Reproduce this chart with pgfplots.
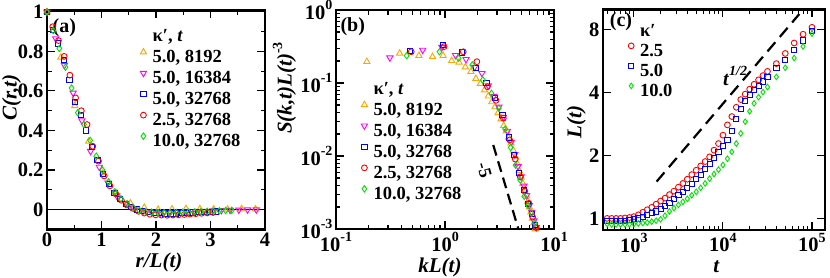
\documentclass[border=0pt]{standalone}
\usepackage{fontspec}
\setmainfont{Liberation Serif}
\usepackage{pgfplots}
\usepackage{pgfplotstable}
\pgfplotsset{compat=1.18}

\definecolor{cO}{RGB}{255,165,0}
\definecolor{cM}{RGB}{255,0,255}
\definecolor{cB}{RGB}{0,0,255}
\definecolor{cR}{RGB}{255,0,0}
\definecolor{cG}{RGB}{0,225,0}

\newcommand\tp[1]{10\raisebox{0.45em}{\fontsize{14}{14}\selectfont#1}}

\pgfplotsset{
  panel/.style={
    scale only axis,
    axis line style={line width=2.4pt},
    every tick/.style={black, line width=1.1pt},
    major tick length=8pt, minor tick length=4.5pt,
    tick align=inside, tick pos=both,
    tick label style={font=\fontsize{20.5}{20.5}\selectfont\bfseries},
    label style={font=\fontsize{21}{21}\selectfont\bfseries\itshape},
    legend style={draw=none, fill=none, inner sep=0pt, outer sep=0pt,
      row sep=1.5pt, column sep=5pt, cells={anchor=west},
      font=\fontsize{18.5}{18.5}\selectfont\bfseries,
      nodes={inner sep=1pt, text height=13pt, text depth=4.5pt}},
    legend image code/.code={\draw[##1,only marks] plot coordinates {(0pt,6pt)};},
    legend cell align=left,
  },
  mO/.style={only marks, color=cO, mark=triangle, mark size=3.6pt, mark options={line width=0.9pt, fill=none}},
  mM/.style={only marks, color=cM, mark=triangle, mark size=3.6pt, mark options={line width=0.9pt, fill=none, rotate=180}},
  mB/.style={only marks, color=cB, mark=square, mark size=2.6pt, mark options={line width=0.9pt, fill=none}},
  mR/.style={only marks, color=cR, mark=o, mark size=2.9pt, mark options={line width=0.9pt, fill=none}},
  mG/.style={only marks, color=cG, mark=diamond, mark size=3.2pt, mark options={line width=0.9pt, fill=none}},
}

\pgfplotstableread{
t R B G
501.2 1.00 0.97 0.94
562.3 1.00 0.97 0.935
631.0 1.00 0.975 0.935
707.9 1.00 0.975 0.935
794.3 1.005 0.975 0.935
891.3 1.01 0.98 0.937
1000 1.02 0.99 0.94
1122 1.04 1.00 0.945
1259 1.07 1.02 0.95
1413 1.10 1.04 0.955
1585 1.13 1.06 0.965
1778 1.17 1.08 0.975
1995 1.21 1.11 0.99
2239 1.25 1.15 1.03
2512 1.30 1.19 1.08
2818 1.35 1.24 1.12
3162 1.41 1.29 1.16
3548 1.47 1.34 1.20
3981 1.54 1.40 1.24
4467 1.62 1.46 1.29
5012 1.70 1.54 1.34
5623 1.78 1.62 1.40
6310 1.87 1.72 1.47
7079 1.97 1.82 1.55
7943 2.12 1.94 1.63
8913 2.28 2.07 1.71
10000 2.50 2.22 1.80
11220 2.80 2.38 1.93
12590 3.07 2.62 2.08
14130 3.40 3.00 2.28
15850 3.70 3.35 2.55
17780 3.93 3.65 2.90
19950 4.15 3.88 3.25
22390 4.38 4.10 3.55
25120 4.60 4.30 3.80
28180 4.82 4.52 4.02
31620 5.05 4.75 4.25
39810 5.50 5.22 4.75
50120 6.15 5.75 5.25
63100 6.90 6.40 5.85
79430 7.60 7.10 6.65
100000 8.20 7.90 7.65
}\tabC

\begin{document}
\begin{tikzpicture}
\useasboundingbox (0,0) rectangle (830pt,277pt);

% ---------------- (a)
\begin{axis}[panel, at={(47pt,47.7pt)}, anchor=south west, width=218pt, height=219pt,
  xmin=0, xmax=4, ymin=-0.1, ymax=1.008,
  xtick={0,1,2,3,4}, xticklabels={0,1,2,3,4}, minor x tick num=1,
  ytick={0,0.2,0.4,0.6,0.8,1}, yticklabels={0,0.2,0.4,0.6,0.8,1}, minor y tick num=1,
  xlabel={r/L(t)}, ylabel={C(r,t)},
  xlabel style={at={(axis description cs:0.514,-0.153)}, anchor=center},
  ylabel style={at={(axis description cs:-0.163,0.6)}, anchor=center},
  legend style={at={(axis description cs:0.428,0.922)}, anchor=north west},
]
\addplot[black, line width=1.6pt, forget plot] coordinates {(0,0) (4,0)};
\addlegendimage{empty legend}\addlegendentry{κ′, \textit{t}}
\addplot[mO] coordinates {(0,1.0)(0.255,0.77)(0.51,0.525)(0.765,0.345)(1.02,0.185)(1.275,0.083)(1.53,0.032)(1.785,0.01)(2.04,0.0)(2.295,0.002)(2.55,0.004)(2.805,0.003)(3.06,0.002)(3.315,0.001)(3.57,0.003)(3.825,0.002)};
\addlegendentry{5.0, 8192}
\addplot[mM] coordinates {(0,1.0)(0.16,0.865)(0.32,0.73)(0.48,0.59)(0.64,0.45)(0.80,0.295)(0.96,0.215)(1.12,0.135)(1.28,0.07)(1.44,0.03)(1.60,0.005)(1.76,-0.008)(1.92,-0.013)(2.08,-0.015)(2.24,-0.016)(2.40,-0.014)(2.56,-0.012)(2.72,-0.010)(2.88,-0.008)(3.04,-0.006)(3.20,-0.004)(3.36,-0.003)(3.52,-0.002)(3.68,-0.001)(3.84,-0.001)};
\addlegendentry{5.0, 16384}
\addplot[mB] coordinates {(0,1.0)(0.103,0.91)(0.206,0.84)(0.309,0.755)(0.412,0.655)(0.515,0.545)(0.618,0.48)(0.721,0.40)(0.824,0.315)(0.927,0.25)(1.03,0.18)(1.133,0.13)(1.236,0.085)(1.339,0.055)(1.442,0.03)(1.545,0.012)(1.648,0.0)(1.751,-0.009)(1.854,-0.014)(1.957,-0.017)(2.06,-0.019)(2.163,-0.02)(2.266,-0.02)(2.369,-0.02)(2.472,-0.019)(2.575,-0.017)(2.678,-0.015)(2.781,-0.013)(2.884,-0.012)(2.987,-0.011)(3.09,-0.01)};
\addlegendentry{5.0, 32768}
\addplot[mR] coordinates {(0,1.0)(0.105,0.925)(0.21,0.855)(0.315,0.775)(0.42,0.68)(0.525,0.565)(0.63,0.50)(0.735,0.43)(0.84,0.32)(0.945,0.245)(1.05,0.17)(1.155,0.12)(1.26,0.08)(1.365,0.047)(1.47,0.023)(1.575,0.006)(1.68,-0.009)(1.785,-0.018)(1.89,-0.024)(1.995,-0.027)(2.1,-0.028)(2.205,-0.029)(2.31,-0.028)(2.415,-0.027)(2.52,-0.025)(2.625,-0.023)(2.73,-0.021)(2.835,-0.019)(2.94,-0.017)(3.045,-0.015)};
\addlegendentry{2.5, 32768}
\addplot[mG] coordinates {(0,1.0)(0.113,0.905)(0.226,0.815)(0.339,0.72)(0.452,0.615)(0.565,0.49)(0.678,0.43)(0.791,0.35)(0.904,0.27)(1.017,0.20)(1.13,0.14)(1.243,0.09)(1.356,0.055)(1.469,0.03)(1.582,0.01)(1.695,-0.004)(1.808,-0.01)(1.921,-0.013)(2.034,-0.015)(2.147,-0.016)(2.26,-0.016)(2.373,-0.015)(2.486,-0.014)(2.599,-0.013)(2.712,-0.011)(2.825,-0.01)(2.938,-0.009)(3.051,-0.008)(3.164,-0.006)(3.277,-0.005)(3.39,-0.004)};
\addlegendentry{10.0, 32768}
\node[anchor=north west, inner sep=0pt, font=\fontsize{20}{20}\selectfont\bfseries] at (axis description cs:0.025,0.965) {(a)};
\end{axis}

% ---------------- (b)
\begin{axis}[panel, at={(336pt,48pt)}, anchor=south west, width=218pt, height=219pt,
  xmode=log, ymode=log, xmin=0.1, xmax=10, ymin=1e-3, ymax=1,
  xtick={0.1,1,10}, xticklabels={\tp{-1},\tp{0},\tp{1}},
  minor xtick={0.2,0.3,0.4,0.5,0.6,0.7,0.8,0.9,2,3,4,5,6,7,8,9},
  ytick={0.001,0.01,0.1,1}, yticklabels={\tp{-3},\tp{-2},\tp{-1},\tp{0}},
  minor ytick={0.002,0.003,0.004,0.005,0.006,0.007,0.008,0.009,0.02,0.03,0.04,0.05,0.06,0.07,0.08,0.09,0.2,0.3,0.4,0.5,0.6,0.7,0.8,0.9},
  xlabel={kL(t)}, ylabel={S(k,t)L(t)\raisebox{0.45em}{\upshape\fontsize{14}{14}\selectfont -3}},
  xlabel style={at={(axis description cs:0.477,-0.176)}, anchor=center},
  ylabel style={at={(axis description cs:-0.236,0.644)}, anchor=center},
  legend style={at={(axis description cs:0.116,0.680)}, anchor=north west},
]
\addplot[black, line width=2.2pt, dash pattern=on 11pt off 6pt, forget plot] coordinates {(2.77,0.01415) (4.71,0.001)};
\addlegendimage{empty legend}\addlegendentry{κ′, \textit{t}}
\addplot[mO] coordinates {(0.192,0.196)(0.384,0.255)(0.576,0.237)(0.768,0.229)(0.960,0.237)(1.152,0.202)(1.344,0.192)(1.536,0.165)(1.728,0.143)(1.92,0.115)(2.112,0.098)(2.304,0.08)(2.496,0.066)(2.688,0.055)(2.88,0.047)(3.072,0.039)(3.264,0.032)(3.456,0.026)(3.648,0.022)(3.84,0.018)(4.032,0.015)(4.224,0.012)(4.416,0.0097)(4.608,0.0078)(4.8,0.0063)(4.992,0.0051)(5.184,0.0042)(5.376,0.0035)(5.568,0.0029)(5.76,0.0024)(5.952,0.002)(6.144,0.0017)(6.336,0.0014)(6.528,0.0012)(6.72,0.001)(6.912,0.00088)};
\addlegendentry{5.0, 8192}
\addplot[mM] coordinates {(0.312,0.222)(0.624,0.283)(0.936,0.31)(1.248,0.24)(1.56,0.211)(1.872,0.165)(2.184,0.136)(2.496,0.092)(2.808,0.066)(3.12,0.047)(3.432,0.034)(3.744,0.022)(4.056,0.0155)(4.368,0.0105)(4.68,0.0072)(4.992,0.0052)(5.304,0.0039)(5.616,0.0029)(5.928,0.0021)(6.24,0.0017)(6.552,0.0013)(6.864,0.00105)(7.176,0.00088)};
\addlegendentry{5.0, 16384}
\addplot[mB] coordinates {(0.48,0.274)(0.96,0.332)(1.44,0.263)(1.92,0.162)(2.40,0.099)(2.88,0.062)(3.36,0.0365)(3.84,0.018)(4.32,0.0103)(4.80,0.0058)(5.28,0.0034)(5.76,0.0022)(6.24,0.0016)(6.72,0.00115)(7.2,0.00088)};
\addlegendentry{5.0, 32768}
\addplot[mR] coordinates {(0.49,0.268)(0.98,0.315)(1.47,0.268)(1.96,0.196)(2.45,0.089)(2.94,0.058)(3.43,0.033)(3.92,0.0166)(4.41,0.0091)(4.90,0.0052)(5.39,0.0033)(5.88,0.00225)(6.37,0.00146)(6.86,0.00105)};
\addlegendentry{2.5, 32768}
\addplot[mG] coordinates {(0.445,0.237)(0.89,0.268)(1.335,0.218)(1.78,0.177)(2.225,0.11)(2.67,0.072)(3.115,0.045)(3.56,0.0234)(4.005,0.0131)(4.45,0.0075)(4.895,0.0047)(5.34,0.0028)(5.785,0.0021)(6.23,0.00164)(6.675,0.0012)(7.12,0.0009)};
\addlegendentry{10.0, 32768}
\node[rotate=-74, font=\fontsize{18}{18}\selectfont\bfseries] at (axis cs:2.3,0.0064) {-5};
\node[anchor=north west, inner sep=0pt, font=\fontsize{20}{20}\selectfont\bfseries] at (axis description cs:0.02,0.965) {(b)};
\end{axis}

% ---------------- (c)
\begin{axis}[panel, at={(603pt,47pt)}, anchor=south west, width=222pt, height=220.7pt,
  xmode=log, ymode=log, xmin=450, xmax=1.4e5, ymin=0.88, ymax=10,
  xtick={1000,10000,100000}, xticklabels={\tp{3},\tp{4},\tp{5}},
  minor xtick={500,600,700,800,900,2000,3000,4000,5000,6000,7000,8000,9000,20000,30000,40000,50000,60000,70000,80000,90000},
  ytick={1,2,4,8}, yticklabels={1,2,4,8}, minor ytick={},
  xlabel={t}, ylabel={L(t)},
  xlabel style={at={(axis description cs:0.51,-0.168)}, anchor=center},
  ylabel style={at={(axis description cs:-0.12,0.49)}, anchor=center},
  legend style={at={(axis description cs:0.114,0.942)}, anchor=north west, row sep=0.5pt},
]
\addplot[black, line width=2.2pt, dash pattern=on 12pt off 7pt, forget plot] coordinates {(1800,1.5) (72000,9.49)};
\addlegendimage{empty legend}\addlegendentry{κ′}
\addplot[mR] table[x=t,y=R]{\tabC};
\addlegendentry{2.5}
\addplot[mB] table[x=t,y=B]{\tabC};
\addlegendentry{5.0}
\addplot[mG, mark size=2.8pt] table[x=t,y=G]{\tabC};
\addlegendentry{10.0}
\node[font=\fontsize{20}{20}\selectfont\bfseries] at (axis cs:13700,4.81) {\textit{t}\raisebox{0.5em}{\fontsize{14}{14}\selectfont\itshape 1/2}};
\node[anchor=north west, inner sep=0pt, font=\fontsize{20}{20}\selectfont\bfseries] at (axis description cs:0.03,0.985) {(c)};
\end{axis}
\end{tikzpicture}
\end{document}
